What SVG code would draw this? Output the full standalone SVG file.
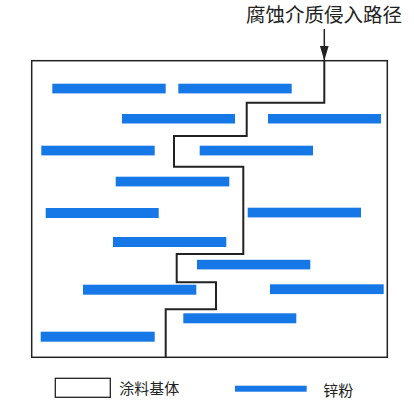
<svg xmlns="http://www.w3.org/2000/svg" width="414" height="405" viewBox="0 0 414 405">
<defs>
<style>
.bar{fill:#1677e6}
.box{fill:none;stroke:#222;stroke-width:1.5}
.path{fill:none;stroke:#222;stroke-width:2}
.t{font-family:"Noto Sans CJK SC","Noto Sans CJK JP",sans-serif;fill:#222}
</style>
<marker id="ah" markerWidth="15" markerHeight="9" refX="15" refY="4.5" orient="auto" markerUnits="userSpaceOnUse" viewBox="0 0 15 9">
<path d="M0,0 L15,4.5 L0,9 Z" fill="#222"/>
</marker>
</defs>
<rect width="414" height="405" fill="#fff"/>
<g id="coating">
<rect class="box" x="31.7" y="60.7" width="355.6" height="296.6"/>
</g>
<g id="zinc">
<rect class="bar" x="52.3" y="83.7" width="113.4" height="9.7"/>
<rect class="bar" x="178.3" y="83.7" width="113.4" height="9.7"/>
<rect class="bar" x="122" y="114" width="113" height="9.5"/>
<rect class="bar" x="268" y="114" width="113" height="9.5"/>
<rect class="bar" x="41.3" y="145.7" width="113.4" height="9.7"/>
<rect class="bar" x="199.7" y="145.7" width="113.3" height="9.7"/>
<rect class="bar" x="115.7" y="176.7" width="113.6" height="9.7"/>
<rect class="bar" x="45.7" y="208" width="113" height="10"/>
<rect class="bar" x="247.7" y="207.7" width="113.3" height="9.7"/>
<rect class="bar" x="113" y="237" width="113.3" height="10"/>
<rect class="bar" x="197" y="259.8" width="113.3" height="9.6"/>
<rect class="bar" x="83" y="284.7" width="113.3" height="10"/>
<rect class="bar" x="270" y="284.3" width="113.7" height="9.8"/>
<rect class="bar" x="183.3" y="313.3" width="113" height="10"/>
<rect class="bar" x="40.7" y="331.7" width="114" height="10"/>
</g>
<g id="connectors">
<polyline class="path" points="324.3,60.7 324.3,102.7 246.7,102.7 246.7,136 174,136 174,166.7 243.3,166.7 243.3,254 176.7,254 176.7,282.3 216,282.3 216,309.3 165.7,309.3 165.7,357.3"/>
<line x1="324.3" y1="29" x2="324.3" y2="60.5" stroke="#222" stroke-width="1.5" marker-end="url(#ah)"/>
</g>
<g id="title">
<text class="t" x="246" y="22" font-size="19.5">腐蚀介质侵入路径</text>
</g>
<g id="legend">
<rect x="55.3" y="378.3" width="55" height="19" fill="#fff" stroke="#222" stroke-width="1.3"/>
<text class="t" x="119.3" y="394" font-size="15">涂料基体</text>
<rect class="bar" x="235" y="385.7" width="71.7" height="6"/>
<text class="t" x="323.3" y="396" font-size="15">锌粉</text>
</g>
</svg>
